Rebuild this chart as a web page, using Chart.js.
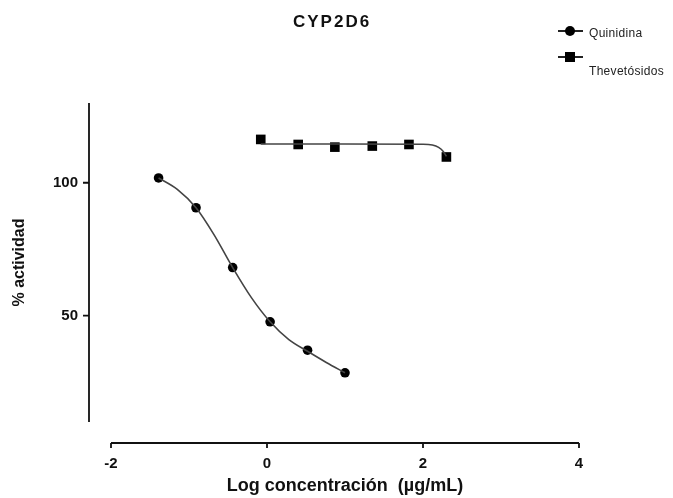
<!DOCTYPE html>
<html>
<head>
<meta charset="utf-8">
<script src="https://cdn.jsdelivr.net/npm/chart.js@4"></script>
<style>
  body { margin: 0; background: #fff; }
  #wrap { position: relative; width: 673px; height: 498px; font-family: "Liberation Sans", Arial, sans-serif; }
  #titulo { position: absolute; left: 293px; top: 12px; font-size: 17px; font-weight: bold; letter-spacing: 2px; color: #111; }
  .leg { position: absolute; font-size: 12px; color: #222; letter-spacing: 0.3px; }
  .mk { position: absolute; width: 25px; height: 0; border-top: 2px solid #222; }
  .mk span { position: absolute; background: #000; }
</style>
</head>
<body>
<div id="wrap">
  <canvas id="myChart"></canvas>
  <div id="titulo">CYP2D6</div>
  <div class="mk" style="left:558px; top:30px;"><span style="left:7px; top:-6px; width:10px; height:10px; border-radius:50%;"></span></div>
  <div class="leg" style="left:589px; top:26px;">Quinidina</div>
  <div class="mk" style="left:558px; top:56px;"><span style="left:7px; top:-6px; width:10px; height:10px;"></span></div>
  <div class="leg" style="left:589px; top:64px;">Thevetósidos</div>
</div>
<script>
// datos
const quinidinaX = [-1.39, -0.91, -0.44, 0.04, 0.52, 1.00];
const quinidinaY = [101.8, 90.6, 68.1, 47.7, 37.0, 28.5];

// curva de ajuste de Quinidina
const quinFitX = [-1.39, -1.15, -0.91, -0.68, -0.44, -0.20, 0.04, 0.28, 0.52, 0.76, 1.00];
const quinFitY = [101.8, 97.5, 90.6, 80.5, 68.1, 56.8, 47.7, 41.0, 36.6, 32.4, 28.5];

const thevetX = [-0.08, 0.40, 0.87, 1.35, 1.82, 2.30];
const thevetY = [116.3, 114.4, 113.4, 113.8, 114.4, 109.7];

// curva de ajuste de Thevetósidos
const thevetFitX = [-0.08, 1.0, 2.0, 2.12, 2.2, 2.26, 2.30];
const thevetFitY = [114.6, 114.6, 114.5, 114.2, 113.3, 111.8, 109.9];

const xTicks = [-2, 0, 2, 4];
const yTicks = [50, 100];

function puntos(xs, ys) {
  return xs.map((x, i) => ({ x: x, y: ys[i] }));
}

function curva(xs, ys) {
  return {
    data: puntos(xs, ys),
    showLine: true,
    cubicInterpolationMode: "monotone",
    borderColor: "#444",
    borderWidth: 1.6,
    pointRadius: 0,
  };
}

// ejes separados estilo Prism
const ejesPlugin = {
  id: "ejes",
  afterDraw(chart) {
    const ctx = chart.ctx;
    const area = chart.chartArea;
    const xs = chart.scales.x;
    const ys = chart.scales.y;
    ctx.save();
    ctx.strokeStyle = "#111";
    ctx.lineWidth = 1.8;

    const ax = area.left - 22;
    ctx.beginPath();
    ctx.moveTo(ax, area.top);
    ctx.lineTo(ax, area.bottom);
    yTicks.forEach((v) => {
      const py = ys.getPixelForValue(v);
      ctx.moveTo(ax - 6, py);
      ctx.lineTo(ax, py);
    });
    ctx.stroke();

    const ay = area.bottom + 21;
    ctx.beginPath();
    ctx.moveTo(xs.getPixelForValue(xTicks[0]), ay);
    ctx.lineTo(xs.getPixelForValue(xTicks[xTicks.length - 1]), ay);
    xTicks.forEach((v) => {
      const px = xs.getPixelForValue(v);
      ctx.moveTo(px, ay);
      ctx.lineTo(px, ay + 5);
    });
    ctx.stroke();
    ctx.restore();
  },
};

const ctx = document.getElementById("myChart");

new Chart(ctx, {
  type: "scatter",
  data: {
    datasets: [
      curva(quinFitX, quinFitY),
      curva(thevetFitX, thevetFitY),
      {
        label: "Quinidina",
        data: puntos(quinidinaX, quinidinaY),
        showLine: false,
        pointStyle: "circle",
        pointRadius: 4.8,
        pointBackgroundColor: "#000",
        pointBorderColor: "#000",
        pointBorderWidth: 0,
      },
      {
        label: "Thevetósidos",
        data: puntos(thevetX, thevetY),
        showLine: false,
        pointStyle: "rect",
        pointRadius: 6.8,
        pointBackgroundColor: "#000",
        pointBorderColor: "#000",
        pointBorderWidth: 0,
      },
    ],
  },
  options: {
    responsive: true,
    maintainAspectRatio: false,
    animation: false,
    layout: {
      padding: { top: 103, right: 94, left: 0, bottom: 0 },
    },
    plugins: {
      legend: { display: false },
      tooltip: { enabled: false },
    },
    scales: {
      x: {
        type: "linear",
        min: -2,
        max: 4,
        grid: { display: false },
        border: { display: false },
        afterBuildTicks: (scale) => {
          scale.ticks = xTicks.map((v) => ({ value: v }));
        },
        afterFit: (scale) => {
          scale.height = 76;
        },
        ticks: {
          padding: 25,
          color: "#111",
          font: { family: "Liberation Sans", size: 15, weight: "bold" },
        },
        title: {
          display: true,
          text: "Log concentración  (µg/mL)",
          color: "#111",
          padding: { bottom: 1 },
          font: { family: "Liberation Sans", size: 18, weight: "bold" },
        },
      },
      y: {
        type: "linear",
        min: 10,
        max: 130,
        grid: { display: false },
        border: { display: false },
        afterBuildTicks: (scale) => {
          scale.ticks = yTicks.map((v) => ({ value: v }));
        },
        afterFit: (scale) => {
          scale.width = 111;
        },
        ticks: {
          padding: 25,
          color: "#111",
          font: { family: "Liberation Sans", size: 15, weight: "bold" },
        },
        title: {
          display: true,
          text: "% actividad",
          color: "#111",
          padding: { top: 10 },
          font: { family: "Liberation Sans", size: 16, weight: "bold" },
        },
      },
    },
  },
  plugins: [ejesPlugin],
});
</script>
</body>
</html>
